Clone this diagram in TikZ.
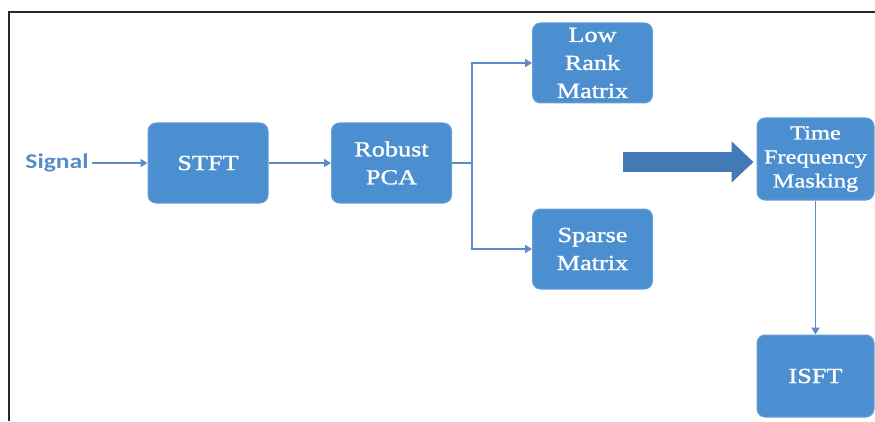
\documentclass[tikz,border=0pt]{standalone}
\usepackage{fontspec}
\usetikzlibrary{arrows.meta,calc}
\newfontfamily\boxfont[FakeStretch=1.22,FakeBold=1.2]{Liberation Serif}
\newfontfamily\sigfont[FakeStretch=1.22]{Carlito}
\definecolor{boxblue}{RGB}{76,143,209}
\definecolor{lineblue}{RGB}{92,139,197}
\definecolor{bigblue}{RGB}{66,121,183}
\definecolor{sigblue}{RGB}{88,140,200}
\definecolor{framegray}{RGB}{40,40,40}
\tikzset{
  procbox/.style={draw=boxblue!85!white, line width=1pt, fill=boxblue, rounded corners=8pt,
    minimum width=120pt, minimum height=80pt, inner sep=0pt, align=center,
    text=white, font=\boxfont\fontsize{21.5}{28}\selectfont},
  smallbox/.style={procbox, font=\boxfont\fontsize{20}{24}\selectfont},
  conn/.style={draw=lineblue, line width=1.8pt, -{Triangle[width=8pt,length=7pt]}},
  plain/.style={draw=lineblue, line width=1.8pt},
  bigarrow/.style={draw=bigblue, line width=20pt, -{Triangle[width=40pt,length=22pt]}},
  framestyle/.style={draw=framegray, line width=2pt}
}
\begin{document}
\begin{tikzpicture}[x=1pt,y=1pt]
\useasboundingbox (0,0) rectangle (875,421);
\fill[white] (0,0) rectangle (875,421);
% frame
\draw[framestyle] (8.5,0) -- (8.5,409) -- (875,409);
% nodes
\node (sig) at (57,258) {\sigfont\bfseries\color{sigblue}\fontsize{21}{24}\selectfont Signal};
\node[procbox] (stft) at (208,258) {STFT};
\node[procbox] (rpca) at (391.5,258) {Robust\\PCA};
\node[procbox] (low) at (592.5,358) {Low\\Rank\\Matrix};
\node[procbox] (sparse) at (592.5,172) {Sparse\\Matrix};
\node[smallbox, minimum width=117pt, minimum height=82pt] (tfm) at (815.5,262) {Time\\Frequency\\Masking};
\node[procbox, minimum width=117pt, minimum height=82pt] (isft) at (815.5,45) {ISFT};
\coordinate (branch) at (472,258);
\coordinate (bigstart) at (623,259);
% connectors
\draw[conn] (sig.east) -- (stft.west);
\draw[conn] (stft.east) -- (rpca.west);
\draw[plain] (rpca.east) -- (branch);
\draw[conn] (branch) |- (low.west);
\draw[conn] (branch) |- (sparse.west);
\draw[bigarrow, shorten >=3pt] (bigstart) -- (bigstart -| tfm.west);
\draw[conn] (tfm.south) -- (isft.north);
\end{tikzpicture}
\end{document}
